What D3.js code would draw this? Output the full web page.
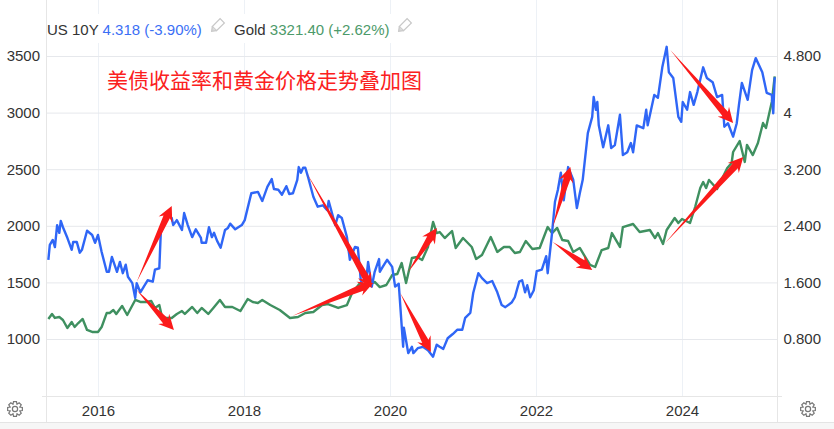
<!DOCTYPE html>
<html>
<head>
<meta charset="utf-8">
<script src="https://cdn.jsdelivr.net/npm/d3@7"></script>
<style>
  html, body { margin: 0; padding: 0; background: #fff; }
  svg { display: block; }
  text { font-family: "Liberation Sans", Arial, sans-serif; }
  .axis path, .axis line { display: none; }
  .axis text { font-size: 15px; fill: #333; }
  .gridY line { stroke: #e6e8ec; }
  .gridX line { stroke: #edf1f6; }
  .gridX path, .gridY path { display: none; }
</style>
</head>
<body>
<div id="chart"></div>
<script>
// values, time in decimal years
var yieldYears = [2015.32,2015.34,2015.38,2015.41,2015.44,2015.47,2015.49,2015.52,2015.58,2015.64,2015.66,2015.71,2015.75,2015.78,2015.85,2015.92,2015.96,
  2016.00,2016.05,2016.12,2016.15,2016.19,2016.26,2016.30,2016.34,2016.38,2016.41,2016.47,2016.51,2016.53,2016.58,2016.64,2016.68,2016.75,2016.78,2016.84,2016.86,2016.89,2016.95,
  2017.01,2017.03,2017.08,2017.15,2017.18,2017.23,2017.29,2017.34,2017.41,2017.42,2017.48,2017.52,2017.56,2017.59,2017.63,2017.68,2017.74,2017.78,2017.81,2017.88,2017.97,
  2018.01,2018.05,2018.10,2018.19,2018.25,2018.32,2018.38,2018.41,2018.47,2018.52,2018.58,2018.62,2018.67,2018.73,2018.75,2018.78,2018.81,2018.84,2018.88,2018.95,
  2019.01,2019.08,2019.14,2019.16,2019.25,2019.29,2019.34,2019.41,2019.45,2019.52,2019.56,2019.60,2019.66,2019.70,2019.75,2019.79,2019.85,2019.86,2019.90,2019.96,
  2020.03,2020.07,2020.12,2020.18,2020.19,2020.25,2020.30,2020.32,2020.38,2020.45,2020.52,2020.59,2020.64,2020.68,2020.73,2020.79,2020.86,2020.92,2020.99,
  2021.03,2021.10,2021.14,2021.21,2021.26,2021.33,2021.40,2021.47,2021.53,2021.58,2021.67,2021.71,2021.77,2021.81,2021.85,2021.88,2021.92,2021.97,
  2022.01,2022.08,2022.14,2022.16,2022.22,2022.26,2022.30,2022.34,2022.38,2022.44,2022.51,2022.56,2022.60,2022.64,2022.71,2022.77,2022.79,2022.82,2022.84,2022.86,2022.92,2022.99,
  2023.03,2023.08,2023.15,2023.19,2023.25,2023.30,2023.33,2023.38,2023.47,2023.51,2023.53,2023.62,2023.67,2023.73,2023.79,2023.82,2023.88,2023.95,2023.99,
  2024.01,2024.07,2024.11,2024.16,2024.21,2024.29,2024.34,2024.42,2024.48,2024.55,2024.58,2024.63,2024.70,2024.75,2024.78,2024.82,2024.90,2024.96,
  2025.01,2025.10,2025.16,2025.23,2025.25,2025.27];
var yieldValues = [1.92,2.13,2.20,2.10,2.41,2.30,2.47,2.38,2.23,2.06,2.17,2.17,2.02,2.06,2.33,2.27,2.16,
  2.27,2.03,1.75,1.75,1.96,1.75,1.89,1.73,1.85,1.68,1.59,1.38,1.59,1.46,1.56,1.63,1.61,1.78,1.80,2.30,2.44,2.55,
  2.51,2.41,2.48,2.34,2.58,2.41,2.24,2.35,2.23,2.16,2.16,2.38,2.24,2.30,2.19,2.09,2.34,2.37,2.43,2.35,2.41,
  2.48,2.65,2.86,2.88,2.75,2.95,3.06,2.92,2.91,2.84,2.96,2.85,2.86,3.05,3.23,3.15,3.22,3.22,3.08,2.81,
  2.67,2.69,2.62,2.75,2.41,2.55,2.51,2.24,1.92,2.10,2.09,1.63,1.49,1.89,1.54,1.75,1.93,1.75,1.82,1.92,
  1.82,1.54,1.58,0.69,0.96,0.60,0.69,0.60,0.67,0.69,0.64,0.55,0.72,0.69,0.66,0.81,0.87,0.93,0.93,
  1.10,1.17,1.45,1.73,1.66,1.59,1.62,1.46,1.28,1.25,1.32,1.39,1.61,1.63,1.46,1.56,1.39,1.49,
  1.76,1.78,1.97,1.73,2.30,2.74,2.91,3.15,2.76,3.23,3.05,2.65,2.86,3.05,3.71,3.94,4.22,4.04,4.15,3.82,3.51,3.82,
  3.50,3.54,3.97,3.40,3.44,3.57,3.44,3.82,3.78,4.04,3.82,4.25,4.21,4.64,4.93,4.57,4.49,3.94,3.87,
  4.15,4.04,4.29,4.11,4.29,4.64,4.49,4.43,4.22,4.25,3.80,3.85,3.66,3.85,4.11,4.42,4.18,4.60,
  4.77,4.57,4.28,4.25,3.99,4.50];

var goldYears = [2015.32,2015.37,2015.41,2015.47,2015.52,2015.58,2015.64,2015.68,2015.73,2015.79,2015.85,2015.92,
  2016.00,2016.05,2016.12,2016.16,2016.21,2016.25,2016.33,2016.40,2016.51,2016.58,2016.67,2016.73,2016.78,2016.84,2016.88,
  2017.01,2017.08,2017.15,2017.19,2017.29,2017.36,2017.42,2017.51,2017.58,2017.67,2017.74,2017.84,2017.95,
  2018.05,2018.12,2018.19,2018.25,2018.36,2018.49,2018.63,2018.74,2018.84,2018.95,
  2019.07,2019.15,2019.29,2019.41,2019.48,2019.59,2019.66,2019.79,2019.86,2019.95,
  2020.03,2020.10,2020.16,2020.22,2020.30,2020.37,2020.44,2020.52,2020.59,2020.64,2020.68,2020.75,2020.85,2020.90,
  2021.00,2021.12,2021.18,2021.26,2021.38,2021.47,2021.56,2021.64,2021.71,2021.78,2021.86,2021.95,
  2022.05,2022.16,2022.22,2022.29,2022.36,2022.44,2022.51,2022.60,2022.74,2022.81,2022.90,2022.99,
  2023.04,2023.15,2023.19,2023.33,2023.42,2023.56,2023.63,2023.67,2023.74,2023.79,2023.90,2023.95,
  2024.00,2024.11,2024.18,2024.25,2024.29,2024.33,2024.37,2024.48,2024.62,2024.68,2024.70,2024.79,2024.86,2024.89,2024.97,
  2025.04,2025.11,2025.15,2025.23,2025.27];
var goldValues = [1177,1221,1186,1194,1168,1097,1150,1106,1141,1177,1080,1062,
  1062,1106,1230,1230,1256,1221,1292,1212,1345,1327,1327,1336,1274,1300,1186,
  1186,1221,1247,1221,1283,1230,1274,1221,1274,1345,1283,1283,1247,
  1353,1327,1318,1345,1300,1256,1186,1194,1230,1239,
  1300,1309,1274,1300,1406,1495,1459,1504,1459,1477,
  1565,1574,1671,1495,1716,1724,1698,1813,2034,1936,1945,1892,1954,1804,
  1892,1813,1707,1742,1901,1769,1813,1813,1760,1769,1866,1795,
  1804,1989,1936,1981,1875,1866,1769,1804,1654,1636,1786,1804,
  1936,1813,1989,2016,1945,1963,1892,1936,1839,1963,2069,2025,
  2060,2025,2166,2334,2387,2334,2405,2325,2511,2555,2652,2749,2564,2714,2625,
  2731,2908,2864,3094,3321];

// red annotation arrows on the left axis scale
var arrowFromYear = [2016.53,2016.53,2018.86,2018.66,2020.25,2020.14,2022.23,2022.23,2023.77,2023.84];
var arrowFromValue = [1504,1433,2466,1203,1592,1406,1989,1857,1848,3553];
var arrowToYear = [2017.01,2017.04,2019.75,2019.77,2020.64,2020.56,2022.47,2022.77,2024.84,2024.70];
var arrowToValue = [2175,1080,1451,1495,1981,885,2519,1610,2608,2908];

var xTicks = [2016,2018,2020,2022,2024];
var leftTicks = [1000,1500,2000,2500,3000,3500];
var rightTicks = [0.8,1.6,2.4,3.2,4,4.8];
var rightLabels = ["0.800","1.600","2.400","3.200","4","4.800"];

var width = 834, height = 429;
var left = 46.5, right = 777.5, bottom = 396, frame = 422;

var svg = d3.select("#chart").append("svg")
    .attr("width", width)
    .attr("height", height);

var x = d3.scaleLinear().domain([2016, 2024]).range([98, 682]);
var yLeft = d3.scaleLinear().domain([1000, 3500]).range([339, 56]);
var yRight = d3.scaleLinear().domain([0.8, 4.8]).range([339, 56]);

// footer strip
svg.append("rect").attr("x", 0).attr("y", frame).attr("width", width).attr("height", height - frame).attr("fill", "#f6f6f6");
svg.append("line").attr("x1", 0).attr("x2", width).attr("y1", frame + .5).attr("y2", frame + .5).attr("stroke", "#e4e4e4");

// grid
svg.append("g").attr("class", "gridX")
    .attr("transform", "translate(0," + bottom + ")")
    .call(d3.axisBottom(x).tickValues(xTicks).tickSize(-bottom).tickFormat(""));
svg.append("g").attr("class", "gridY")
    .attr("transform", "translate(" + left + ",0)")
    .call(d3.axisRight(yLeft).tickValues(leftTicks).tickSize(right - left).tickFormat(""));

// frame lines
[left, right].forEach(function(px){
  svg.append("line").attr("x1", px).attr("x2", px).attr("y1", 0).attr("y2", frame).attr("stroke", "#e6e6e6");
});
svg.append("line").attr("x1", 42).attr("x2", 782).attr("y1", bottom + .5).attr("y2", bottom + .5).attr("stroke", "#e6e6e6");

// axis labels
svg.append("g").attr("class", "axis")
    .attr("transform", "translate(" + (left - 4.5) + ",0)")
    .call(d3.axisLeft(yLeft).tickValues(leftTicks).tickSize(0).tickPadding(2).tickFormat(d3.format("d")));
svg.append("g").attr("class", "axis")
    .attr("transform", "translate(" + (right + 2) + ",0)")
    .call(d3.axisRight(yRight).tickValues(rightTicks).tickSize(0).tickPadding(4)
      .tickFormat(function(d, i){ return rightLabels[i]; }));
svg.append("g").attr("class", "axis")
    .attr("transform", "translate(0," + (bottom + 7) + ")")
    .call(d3.axisBottom(x).tickValues(xTicks).tickSize(0).tickPadding(2).tickFormat(d3.format("d")));

// legend sits on a white box that breaks the grid
svg.append("rect").attr("x", left + 1).attr("y", 14).attr("width", 375).attr("height", 29).attr("fill", "#fff");
var legend = svg.append("text").attr("x", 47).attr("y", 35).attr("font-size", 15);
legend.append("tspan").attr("fill", "#333").text("US 10Y ");
legend.append("tspan").attr("fill", "#3b6ff5").text("4.318 (-3.90%)");
var legend2 = svg.append("text").attr("x", 234).attr("y", 35).attr("font-size", 15);
legend2.append("tspan").attr("fill", "#333").text("Gold ");
legend2.append("tspan").attr("fill", "#4c9a6a").text("3321.40 (+2.62%)");

function pencil(px, py){
  var g = svg.append("g").attr("transform", "translate(" + px + "," + py + ") rotate(45)")
      .attr("fill", "none").attr("stroke", "#c8c8c8").attr("stroke-width", 1.2);
  g.append("rect").attr("x", -3).attr("y", -6).attr("width", 6).attr("height", 11);
  g.append("path").attr("d", "M-3,5L0,9L3,5").attr("fill", "#dcdcdc");
}
pencil(218, 25);
pencil(405, 25);

// series
var yieldLine = d3.line()
    .x(function(d, i){ return x(yieldYears[i]); })
    .y(function(d){ return yRight(d); });
var goldLine = d3.line()
    .x(function(d, i){ return x(goldYears[i]); })
    .y(function(d){ return yLeft(d); });

svg.append("path").datum(goldValues)
    .attr("d", goldLine).attr("fill", "none").attr("stroke", "#3f9060").attr("stroke-width", 2.4).attr("stroke-linejoin", "round");
svg.append("path").datum(yieldValues)
    .attr("d", yieldLine).attr("fill", "none").attr("stroke", "#2f66f6").attr("stroke-width", 2.4).attr("stroke-linejoin", "round");

// tapered arrows, thin at the tail and thick at the head
function arrowPath(i){
  var x0 = x(arrowFromYear[i]), y0 = yLeft(arrowFromValue[i]),
      x1 = x(arrowToYear[i]), y1 = yLeft(arrowToValue[i]);
  var dx = x1 - x0, dy = y1 - y0, len = Math.sqrt(dx*dx + dy*dy);
  var ux = dx/len, uy = dy/len, nx = -uy, ny = ux;
  var back = 15, neck = 12, shaft = 3.5, barb = 7.5;
  var bx = x1 - ux*neck, by = y1 - uy*neck, hx = x1 - ux*back, hy = y1 - uy*back;
  return "M" + x0 + "," + y0 +
    "L" + (bx + nx*shaft) + "," + (by + ny*shaft) +
    "L" + (hx + nx*barb) + "," + (hy + ny*barb) +
    "L" + x1 + "," + y1 +
    "L" + (hx - nx*barb) + "," + (hy - ny*barb) +
    "L" + (bx - nx*shaft) + "," + (by - ny*shaft) + "Z";
}
svg.selectAll(".arrow")
    .data(arrowFromYear)
  .enter().append("path")
    .attr("class", "arrow")
    .attr("d", function(d, i){ return arrowPath(i); })
    .attr("fill", "#fb1a1a");

svg.append("text")
    .attr("x", 107).attr("y", 88)
    .attr("fill", "#fb2020")
    .style("font-family", '"Noto Sans CJK SC"')
    .attr("font-size", 21)
    .text("美债收益率和黄金价格走势叠加图");

// settings gears
function gear(px, py){
  var pts = [];
  d3.range(8).forEach(function(k){
    var a = k*Math.PI/4;
    pts.push([px + 7.5*Math.cos(a - 0.2), py + 7.5*Math.sin(a - 0.2)]);
    pts.push([px + 7.5*Math.cos(a + 0.2), py + 7.5*Math.sin(a + 0.2)]);
    pts.push([px + 5.2*Math.cos(a + 0.39), py + 5.2*Math.sin(a + 0.39)]);
  });
  svg.append("path").attr("d", d3.line()(pts) + "Z").attr("fill", "none").attr("stroke", "#777").attr("stroke-width", 1.2);
  svg.append("circle").attr("cx", px).attr("cy", py).attr("r", 2.6).attr("fill", "none").attr("stroke", "#777").attr("stroke-width", 1.2);
}
gear(15, 409);
gear(808, 409);
</script>
</body>
</html>
